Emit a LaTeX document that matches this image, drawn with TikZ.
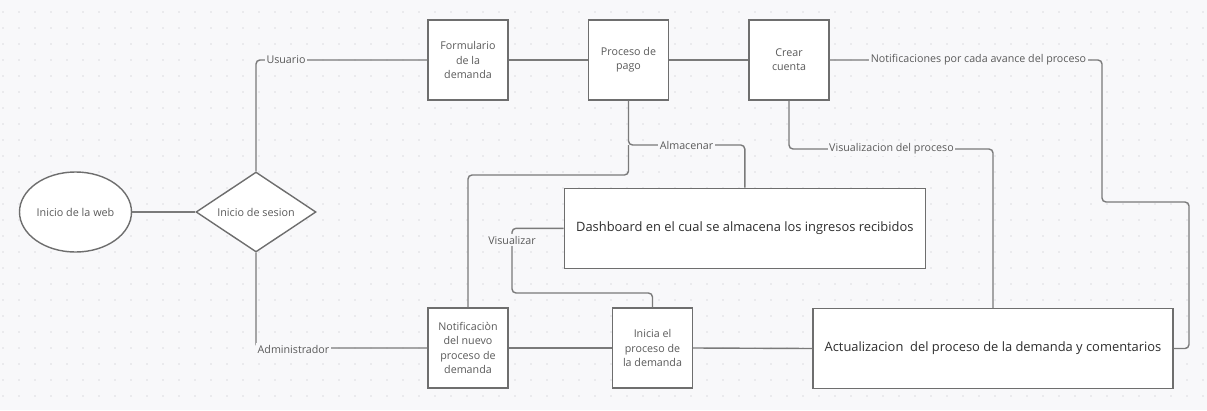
\documentclass[tikz,border=0pt]{standalone}
\usepackage{fontspec}
\setmainfont{Open Sans}
\usetikzlibrary{shapes.geometric}
\definecolor{bg}{HTML}{F8F8FA}
\definecolor{dotc}{HTML}{DCDCE0}
\definecolor{edgec}{HTML}{7A7A7A}
\definecolor{boxc}{HTML}{6E6E6E}
\definecolor{txt}{HTML}{5A5A5A}
\definecolor{txtd}{HTML}{2E2E2E}
\begin{document}
\begin{tikzpicture}[x=1pt,y=-1pt,
  box/.style={draw=boxc, line width=1.4pt, fill=white, minimum width=80pt, minimum height=80pt,
    inner sep=0pt, align=center, text=txt, font=\fontsize{10.7}{14.3}\selectfont},
  bigbox/.style={draw=boxc, line width=1.4pt, fill=white, minimum width=360pt, minimum height=80pt,
    inner sep=0pt, align=center, text=txtd, font=\fontsize{12.9}{15}\selectfont},
  conn/.style={draw=edgec, line width=1.4pt, rounded corners=4pt},
  lab/.style={fill=bg, inner xsep=1.5pt, inner ysep=2pt, text=txt, font=\fontsize{10.7}{12}\selectfont}
]
\useasboundingbox (0,0) rectangle (1207,410);
\fill[bg] (0,0) rectangle (1207,410);
\foreach \i in {0,...,75}{\foreach \j in {0,...,24}{\fill[dotc] (3+16*\i,12+16*\j) circle (0.9pt);}}

% nodes
\node[ellipse, draw=boxc, line width=1.4pt, fill=white, minimum width=112pt, minimum height=80pt,
  inner sep=0pt, text=txt, font=\fontsize{10.8}{12}\selectfont] (web) at (75.5,212) {Inicio de la web};
\node[diamond, draw=boxc, line width=1.4pt, fill=white, minimum width=120pt, minimum height=80pt,
  aspect=1.5, inner sep=0pt, text=txt, font=\fontsize{10.8}{12}\selectfont] (ses) at (256,212) {Inicio de sesion};
\node[box] (form) at (468,60) {Formulario\\de la\\demanda};
\node[box] (pago) at (628.5,60) {Proceso de\\pago};
\node[box] (crear) at (789,60) {Crear\\cuenta};
\node[box] (notif) at (468,348) {Notificaciòn\\del nuevo\\proceso de\\demanda};
\node[box] (ini) at (652.5,348) {Inicia el\\proceso de\\la demanda};
\node[bigbox, minimum width=361pt] (dash) at (744.8,228.3) {Dashboard en el cual se almacena los ingresos recibidos};
\node[bigbox] (act) at (993,348.5) {Actualizacion\ \ del proceso de la demanda y comentarios};

% helper coordinates
\coordinate (a1) at (pago.south |- 0,145);
\coordinate (b1) at (pago.south |- 0,175);
\coordinate (v1) at (act.north |- 0,149);
\coordinate (n1) at (1102,202);
\coordinate (n2) at (1189,202);
\coordinate (c1) at (512,293);

% connectors
\draw[conn] (web) -- (ses);
\draw[conn] (ses.north) |- (form.west);
\draw[conn] (ses.south) |- (notif.west);
\draw[conn] (form) -- (pago);
\draw[conn] (pago) -- (crear);
\draw[conn] (crear.east) -| (n1) -- (n2) |- (act.east);
\draw[conn] (crear.south) |- (v1) -- (act.north);
\draw[conn] (pago.south) -- (a1) -| (dash.north);
\draw[conn] (a1) -- (b1) -| (notif.north);
\draw[conn] (ini.north) |- (c1) |- (dash.west);
\draw[conn] (notif.east) -- (ini.west);
\draw[conn] (ini.east) -- (act.west);

% labels
\node[lab] (lu) at (286,60) {Usuario};
\node[lab] (ladm) at (293.5,349) {Administrador};
\node[lab] (lnot) at (978.5,60) {Notificaciones por cada avance del proceso};
\node[lab] (lvis) at (891.5,149) {Visualizacion del proceso};
\node[lab] (lalm) at (686.5,145) {Almacenar};
\node[lab] (lvz) at (512,240) {Visualizar};
\end{tikzpicture}
\end{document}
